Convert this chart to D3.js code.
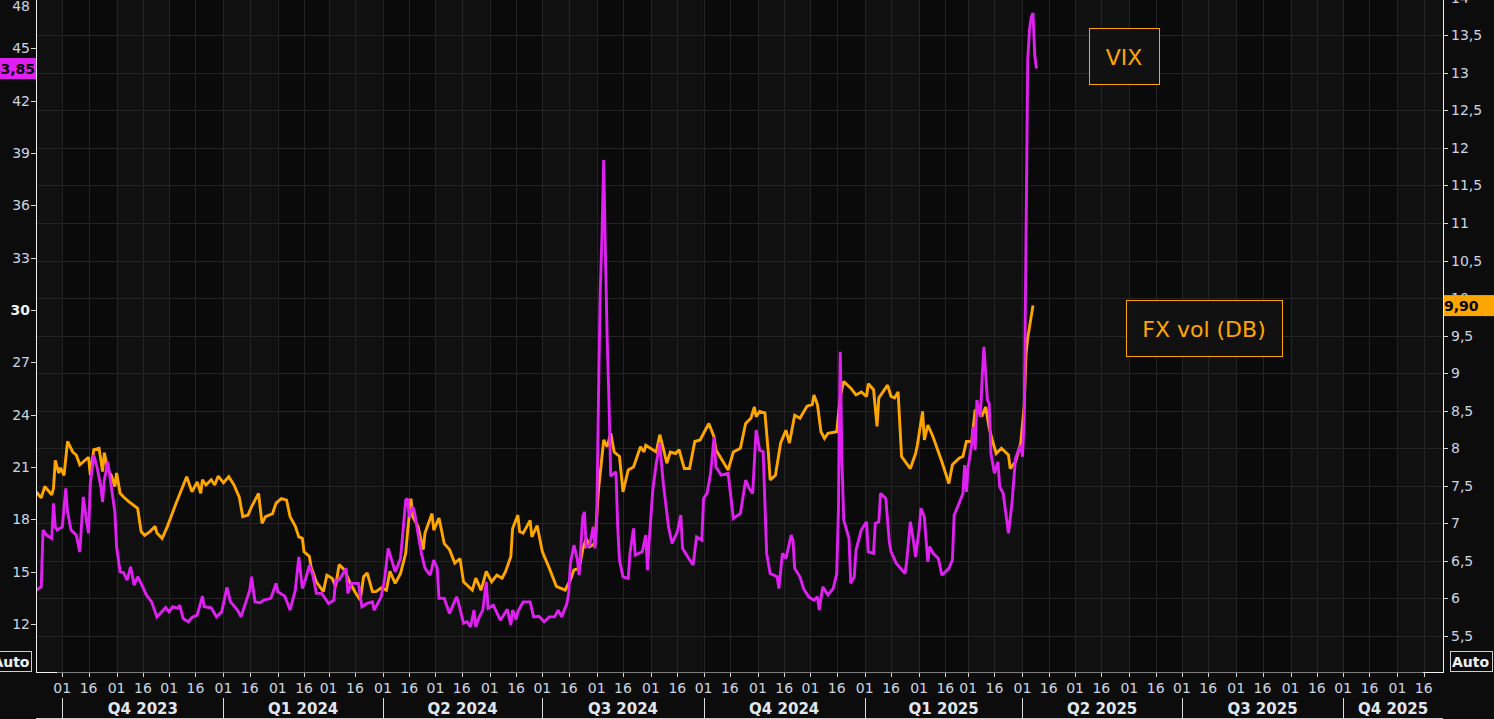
<!DOCTYPE html>
<html><head><meta charset="utf-8">
<script src="https://cdn.jsdelivr.net/npm/d3@7"></script>
<style>
html,body{margin:0;padding:0;background:#0c0c0c;overflow:hidden}
svg{display:block}
</style></head><body>
<svg id="c" width="1494" height="719"></svg>
<script>
// ---------------- DATA ----------------
const seriesNames = ["VIX", "FX vol (DB)"];
const lastLabels = ["43,85", "9,90"];
const leftTicks = [12, 15, 18, 21, 24, 27, 30, 33, 36, 39, 42, 45, 48];
const rightTicks = [5.5, 6, 6.5, 7, 7.5, 8, 8.5, 9, 9.5, 10, 10.5, 11, 11.5, 12, 12.5, 13, 13.5, 14];
const xStart = "2023-09-16";
const xEnd = "2025-11-27";

const fxDates = ["2023-09-16","2023-09-19","2023-09-21","2023-09-25","2023-09-26","2023-09-27","2023-09-29","2023-09-30","2023-10-02","2023-10-04","2023-10-07","2023-10-09","2023-10-11","2023-10-16","2023-10-17","2023-10-19","2023-10-22","2023-10-24","2023-10-25","2023-10-27","2023-10-29","2023-10-31","2023-11-01","2023-11-03","2023-11-05","2023-11-08","2023-11-13","2023-11-15","2023-11-17","2023-11-20","2023-11-23","2023-11-24","2023-11-27","2023-11-30","2023-12-05","2023-12-11","2023-12-14","2023-12-17","2023-12-19","2023-12-20","2023-12-22","2023-12-25","2023-12-27","2023-12-29","2024-01-01","2024-01-04","2024-01-07","2024-01-10","2024-01-12","2024-01-15","2024-01-17","2024-01-19","2024-01-21","2024-01-23","2024-01-25","2024-01-29","2024-01-31","2024-02-03","2024-02-06","2024-02-08","2024-02-11","2024-02-13","2024-02-15","2024-02-16","2024-02-19","2024-02-20","2024-02-23","2024-02-27","2024-02-29","2024-03-03","2024-03-05","2024-03-07","2024-03-10","2024-03-13","2024-03-16","2024-03-19","2024-03-21","2024-03-23","2024-03-26","2024-03-28","2024-03-31","2024-04-03","2024-04-05","2024-04-08","2024-04-11","2024-04-14","2024-04-15","2024-04-17","2024-04-18","2024-04-21","2024-04-24","2024-04-25","2024-04-29","2024-04-30","2024-05-03","2024-05-06","2024-05-09","2024-05-12","2024-05-15","2024-05-17","2024-05-22","2024-05-24","2024-05-27","2024-05-30","2024-06-02","2024-06-05","2024-06-08","2024-06-10","2024-06-13","2024-06-14","2024-06-17","2024-06-18","2024-06-20","2024-06-24","2024-06-25","2024-06-28","2024-07-01","2024-07-05","2024-07-09","2024-07-14","2024-07-17","2024-07-19","2024-07-22","2024-07-24","2024-07-26","2024-07-28","2024-07-31","2024-08-02","2024-08-05","2024-08-07","2024-08-09","2024-08-11","2024-08-14","2024-08-16","2024-08-19","2024-08-22","2024-08-26","2024-08-28","2024-08-29","2024-09-04","2024-09-06","2024-09-08","2024-09-10","2024-09-12","2024-09-15","2024-09-17","2024-09-20","2024-09-23","2024-09-26","2024-09-29","2024-10-04","2024-10-07","2024-10-08","2024-10-15","2024-10-18","2024-10-22","2024-10-25","2024-10-28","2024-10-30","2024-10-31","2024-11-02","2024-11-05","2024-11-07","2024-11-08","2024-11-11","2024-11-14","2024-11-17","2024-11-19","2024-11-22","2024-11-25","2024-11-29","2024-12-02","2024-12-03","2024-12-05","2024-12-07","2024-12-09","2024-12-11","2024-12-16","2024-12-18","2024-12-20","2024-12-24","2024-12-27","2024-12-30","2025-01-02","2025-01-03","2025-01-06","2025-01-08","2025-01-09","2025-01-14","2025-01-16","2025-01-18","2025-01-20","2025-01-22","2025-01-27","2025-01-30","2025-01-31","2025-02-03","2025-02-04","2025-02-06","2025-02-09","2025-02-14","2025-02-18","2025-02-20","2025-02-24","2025-02-26","2025-02-28","2025-03-03","2025-03-05","2025-03-09","2025-03-11","2025-03-13","2025-03-15","2025-03-17","2025-03-20","2025-03-24","2025-03-25","2025-03-28","2025-03-31","2025-04-02","2025-04-03","2025-04-04","2025-04-07"];
const fxValues = [7.42,7.34,7.49,7.38,7.47,7.84,7.67,7.74,7.64,8.09,7.95,7.91,7.78,7.88,7.64,7.98,8.00,7.69,7.94,7.71,7.64,7.49,7.67,7.40,7.35,7.29,7.20,6.89,6.84,6.89,6.96,6.87,6.80,6.96,7.27,7.62,7.42,7.55,7.40,7.58,7.51,7.58,7.51,7.63,7.54,7.62,7.51,7.35,7.09,7.11,7.22,7.31,7.40,7.00,7.09,7.13,7.27,7.33,7.31,7.09,6.96,6.82,6.80,6.62,6.56,6.42,6.22,6.09,6.31,6.27,6.16,6.45,6.38,6.22,6.09,5.98,6.29,6.34,6.09,6.09,6.14,6.11,6.36,6.20,6.33,6.60,6.87,7.33,7.09,6.96,6.65,6.87,7.13,6.91,7.07,6.73,6.65,6.47,6.53,6.22,6.11,6.27,6.11,6.36,6.22,6.31,6.27,6.36,6.56,6.93,7.11,6.89,6.87,7.04,6.82,6.97,6.62,6.40,6.16,6.11,6.25,6.38,6.40,6.65,6.80,6.69,6.73,7.44,8.11,8.02,8.20,7.95,7.89,7.42,7.71,7.75,8.02,7.95,8.04,7.95,8.18,8.00,7.80,7.95,7.93,7.98,7.73,7.73,8.09,8.11,8.33,8.15,7.98,7.71,7.95,8.00,8.33,8.40,8.55,8.42,8.49,8.47,7.93,7.58,7.64,8.07,8.24,8.07,8.44,8.40,8.56,8.58,8.71,8.58,8.22,8.13,8.20,8.22,8.69,8.89,8.80,8.71,8.75,8.69,8.86,8.78,8.29,8.67,8.84,8.69,8.67,8.75,7.89,7.73,7.93,8.04,8.49,8.11,8.31,8.15,7.82,7.53,7.78,7.87,7.89,8.09,8.09,8.51,8.44,8.55,8.27,8.09,7.93,8.00,7.91,7.73,7.82,8.07,8.56,9.24,9.47,9.90];

const vixDates = ["2023-09-16","2023-09-19","2023-09-20","2023-09-22","2023-09-25","2023-09-26","2023-09-27","2023-09-28","2023-10-01","2023-10-03","2023-10-04","2023-10-06","2023-10-09","2023-10-11","2023-10-13","2023-10-15","2023-10-16","2023-10-17","2023-10-19","2023-10-21","2023-10-23","2023-10-24","2023-10-25","2023-10-27","2023-10-29","2023-10-31","2023-11-01","2023-11-03","2023-11-05","2023-11-07","2023-11-09","2023-11-11","2023-11-13","2023-11-15","2023-11-18","2023-11-21","2023-11-24","2023-11-29","2023-12-01","2023-12-03","2023-12-06","2023-12-07","2023-12-09","2023-12-12","2023-12-14","2023-12-17","2023-12-20","2023-12-21","2023-12-25","2023-12-28","2023-12-31","2024-01-03","2024-01-05","2024-01-09","2024-01-11","2024-01-16","2024-01-17","2024-01-19","2024-01-22","2024-01-24","2024-01-28","2024-01-31","2024-02-01","2024-02-05","2024-02-08","2024-02-11","2024-02-13","2024-02-15","2024-02-17","2024-02-19","2024-02-21","2024-02-23","2024-02-26","2024-02-28","2024-03-01","2024-03-04","2024-03-05","2024-03-07","2024-03-11","2024-03-12","2024-03-14","2024-03-18","2024-03-20","2024-03-23","2024-03-26","2024-03-27","2024-03-31","2024-04-02","2024-04-04","2024-04-06","2024-04-08","2024-04-11","2024-04-12","2024-04-14","2024-04-15","2024-04-16","2024-04-18","2024-04-19","2024-04-21","2024-04-23","2024-04-25","2024-04-28","2024-04-30","2024-05-02","2024-05-03","2024-05-06","2024-05-09","2024-05-13","2024-05-14","2024-05-17","2024-05-19","2024-05-21","2024-05-23","2024-05-24","2024-05-26","2024-05-28","2024-05-30","2024-05-31","2024-06-03","2024-06-07","2024-06-11","2024-06-13","2024-06-14","2024-06-16","2024-06-17","2024-06-20","2024-06-24","2024-06-26","2024-06-29","2024-07-02","2024-07-05","2024-07-08","2024-07-10","2024-07-12","2024-07-15","2024-07-16","2024-07-17","2024-07-19","2024-07-21","2024-07-22","2024-07-24","2024-07-25","2024-07-26","2024-07-28","2024-07-30","2024-07-31","2024-08-01","2024-08-02","2024-08-03","2024-08-04","2024-08-05","2024-08-06","2024-08-07","2024-08-08","2024-08-09","2024-08-12","2024-08-13","2024-08-14","2024-08-16","2024-08-19","2024-08-20","2024-08-22","2024-08-23","2024-08-27","2024-08-29","2024-08-30","2024-08-31","2024-09-02","2024-09-04","2024-09-06","2024-09-08","2024-09-11","2024-09-13","2024-09-16","2024-09-18","2024-09-19","2024-09-22","2024-09-25","2024-09-27","2024-09-30","2024-10-01","2024-10-03","2024-10-05","2024-10-07","2024-10-08","2024-10-11","2024-10-15","2024-10-18","2024-10-22","2024-10-25","2024-10-27","2024-10-29","2024-10-31","2024-11-02","2024-11-04","2024-11-06","2024-11-08","2024-11-12","2024-11-13","2024-11-15","2024-11-17","2024-11-20","2024-11-21","2024-11-22","2024-11-25","2024-11-27","2024-11-30","2024-12-03","2024-12-05","2024-12-06","2024-12-08","2024-12-11","2024-12-14","2024-12-16","2024-12-17","2024-12-18","2024-12-19","2024-12-20","2024-12-23","2024-12-24","2024-12-26","2024-12-27","2024-12-30","2025-01-02","2025-01-03","2025-01-06","2025-01-07","2025-01-09","2025-01-10","2025-01-13","2025-01-15","2025-01-16","2025-01-19","2025-01-24","2025-01-25","2025-01-27","2025-01-29","2025-01-30","2025-02-01","2025-02-02","2025-02-04","2025-02-05","2025-02-06","2025-02-07","2025-02-09","2025-02-12","2025-02-14","2025-02-18","2025-02-20","2025-02-21","2025-02-23","2025-02-26","2025-02-27","2025-02-28","2025-03-01","2025-03-03","2025-03-04","2025-03-05","2025-03-06","2025-03-08","2025-03-09","2025-03-10","2025-03-12","2025-03-13","2025-03-14","2025-03-16","2025-03-18","2025-03-19","2025-03-21","2025-03-24","2025-03-26","2025-03-28","2025-03-31","2025-04-01","2025-04-02","2025-04-03","2025-04-04","2025-04-05","2025-04-06","2025-04-07","2025-04-08","2025-04-09"];
const vixValues = [13.94,14.13,17.39,17.10,16.91,18.92,17.57,17.39,17.57,19.78,18.43,17.39,17.10,16.14,19.29,17.77,17.20,20.06,21.69,20.92,19.87,19.01,20.25,21.30,19.87,18.43,16.43,14.99,14.94,14.52,15.28,14.23,14.71,14.33,13.66,13.27,12.41,12.95,12.70,12.99,12.90,13.08,12.32,12.13,12.38,12.51,13.60,12.99,12.93,12.41,12.70,14.10,13.27,12.80,12.41,13.94,14.71,13.27,13.22,13.37,13.47,14.33,13.85,13.60,12.80,13.94,15.85,14.04,14.62,15.38,14.80,13.76,13.76,13.47,13.18,13.37,14.52,14.52,15.19,13.76,14.33,14.33,12.99,13.18,13.27,12.80,13.56,14.62,16.34,15.67,14.99,15.76,16.81,19.11,19.20,18.15,18.72,18.43,17.20,16.05,15.19,14.80,15.67,15.19,13.47,13.47,12.61,13.56,13.27,12.04,12.13,11.84,12.80,11.84,12.41,12.80,14.42,12.90,13.08,12.22,12.84,11.94,12.80,12.26,12.70,13.27,13.27,12.41,12.45,12.13,12.41,12.41,12.80,12.41,13.18,13.76,15.48,16.52,15.67,14.80,18.15,18.43,16.43,16.52,17.57,16.34,17.77,24.84,30.97,34.24,38.60,33.15,28.28,24.84,20.48,20.73,17.57,15.67,14.71,14.62,16.05,17.48,15.95,16.14,17.10,15.09,16.81,19.68,21.21,22.36,20.06,17.57,16.62,17.29,18.25,16.34,15.85,15.38,17.00,16.81,19.20,19.49,20.64,22.73,21.01,20.54,20.64,18.06,18.34,20.25,19.78,19.49,23.12,21.97,21.88,16.05,14.90,14.71,14.04,16.05,15.76,17.10,16.81,15.19,14.71,14.04,13.56,13.37,13.56,12.80,14.13,13.66,14.04,14.90,18.72,27.61,21.21,17.96,16.91,14.33,14.71,16.24,17.39,17.86,16.14,16.05,17.77,17.86,19.49,19.20,16.71,16.14,15.48,14.90,15.67,17.86,16.62,15.85,17.39,18.63,18.15,16.81,15.57,16.43,16.05,15.76,14.80,15.19,15.67,18.25,18.72,19.49,21.11,19.58,21.01,22.26,23.31,21.97,24.84,23.88,26.18,27.90,24.84,24.65,21.78,20.64,21.30,19.87,19.49,17.20,18.92,21.50,22.26,21.59,23.69,33.84,44.34,46.06,46.80,47.03,44.62,43.85];

// ---------------- CHART ----------------
const W = 1494, H = 719;
const M = {left: 36, right: 1443, top: 0, bottom: 672};
const parse = d3.utcParse("%Y-%m-%d");
const C = {orange: "#ffa500", magenta: "#e020f2", grid: "#242424", label: "#cdd5e0"};
const FONT = "'DejaVu Sans', Verdana, sans-serif";

const svg = d3.select("#c");
svg.append("rect").attr("width", W).attr("height", H).attr("fill", "#0c0c0c");

const x = d3.scaleUtc().domain([parse(xStart), parse(xEnd)]).range([M.left, M.right]);
const yL = d3.scaleLinear().domain([9.25, 47.78]).range([M.bottom, M.top]);
const yR = d3.scaleLinear().domain([5.02, 13.97]).range([M.bottom, M.top]);

const plot = svg.append("g");
plot.append("defs").append("clipPath").attr("id", "clip")
  .append("rect").attr("x", M.left).attr("y", M.top).attr("width", M.right - M.left).attr("height", M.bottom - M.top);

// month bands
const months = d3.utcMonth.range(d3.utcMonth.floor(x.domain()[0]), x.domain()[1]);
plot.append("g").attr("clip-path", "url(#clip)").selectAll("rect").data(months).join("rect")
  .attr("x", d => x(d)).attr("y", M.top)
  .attr("width", d => x(d3.utcMonth.offset(d, 1)) - x(d))
  .attr("height", M.bottom - M.top)
  .attr("fill", (d, i) => i % 2 ? "#0a0a0a" : "#101010");

// x ticks: 1st and 16th of each month
const xTicks = [];
months.forEach(m => {
  [m, d3.utcDay.offset(m, 15)].forEach(t => { if (t > x.domain()[0] && t <= x.domain()[1]) xTicks.push(t); });
});

// gridlines
plot.append("g").selectAll("line").data(xTicks).join("line")
  .attr("x1", d => Math.round(x(d)) + 0.5).attr("x2", d => Math.round(x(d)) + 0.5)
  .attr("y1", M.top).attr("y2", M.bottom).attr("stroke", C.grid).attr("stroke-width", 1);
plot.append("g").selectAll("line").data(rightTicks).join("line")
  .attr("x1", M.left).attr("x2", M.right)
  .attr("y1", d => Math.round(yR(d)) + 0.5).attr("y2", d => Math.round(yR(d)) + 0.5)
  .attr("stroke", C.grid).attr("stroke-width", 1);

// lines
const fxData = fxDates.map((d, i) => ({date: parse(d), value: fxValues[i]}));
const vixData = vixDates.map((d, i) => ({date: parse(d), value: vixValues[i]}));
const lineG = plot.append("g").attr("clip-path", "url(#clip)");
lineG.append("path").datum(fxData)
  .attr("d", d3.line().x(d => x(d.date)).y(d => yR(d.value)))
  .attr("fill", "none").attr("stroke", C.orange).attr("stroke-width", 2.9).attr("stroke-linejoin", "miter").attr("stroke-miterlimit", 2);
lineG.append("path").datum(vixData)
  .attr("d", d3.line().x(d => x(d.date)).y(d => yL(d.value)))
  .attr("fill", "none").attr("stroke", C.magenta).attr("stroke-width", 2.9).attr("stroke-linejoin", "miter").attr("stroke-miterlimit", 2);

// legend boxes
const legends = [
  {text: seriesNames[0], x: 1089, y: 28, w: 70, h: 56},
  {text: seriesNames[1], x: 1126, y: 300, w: 156, h: 56}
];
const lg = svg.append("g").selectAll("g").data(legends).join("g");
lg.append("rect").attr("x", d => d.x + 0.5).attr("y", d => d.y + 0.5).attr("width", d => d.w).attr("height", d => d.h)
  .attr("fill", "#111111").attr("stroke", C.orange).attr("stroke-width", 1);
lg.append("text").attr("x", d => d.x + d.w / 2).attr("y", d => d.y + d.h / 2 + 1)
  .attr("text-anchor", "middle").attr("dominant-baseline", "central")
  .attr("fill", C.orange).attr("font-family", FONT).attr("font-size", 22).text(d => d.text);

// axes frame
const ax = svg.append("g");
ax.append("line").attr("x1", M.left).attr("x2", M.right).attr("y1", M.bottom + 0.5).attr("y2", M.bottom + 0.5).attr("stroke", "#7a7a7a");
ax.append("line").attr("x1", M.left + 0.5).attr("x2", M.left + 0.5).attr("y1", 0).attr("y2", M.bottom + 1).attr("stroke", "#f0f0f0");
ax.append("line").attr("x1", M.left).attr("x2", 57).attr("y1", M.bottom + 0.5).attr("y2", M.bottom + 0.5).attr("stroke", "#f0f0f0");
ax.append("line").attr("x1", M.right + 0.5).attr("x2", M.right + 0.5).attr("y1", 0).attr("y2", M.bottom + 1).attr("stroke", "#f0f0f0");
ax.append("line").attr("x1", 1423).attr("x2", M.right + 1).attr("y1", M.bottom + 0.5).attr("y2", M.bottom + 0.5).attr("stroke", "#f0f0f0");
ax.append("line").attr("x1", M.left).attr("x2", M.right).attr("y1", 718.5).attr("y2", 718.5).attr("stroke", "#cfcfcf");

// x tick marks and labels
const fmtDay = d3.utcFormat("%d");
ax.append("g").selectAll("line").data(xTicks).join("line")
  .attr("x1", d => Math.round(x(d)) + 0.5).attr("x2", d => Math.round(x(d)) + 0.5)
  .attr("y1", M.bottom + 1).attr("y2", M.bottom + 5).attr("stroke", "#d8d8d8");
ax.append("g").selectAll("text").data(xTicks).join("text")
  .attr("x", d => x(d)).attr("y", 693)
  .attr("text-anchor", "middle").attr("fill", C.label).attr("font-family", FONT).attr("font-size", 14)
  .text(d => fmtDay(d));

// quarters
const quarters = d3.utcMonth.every(3).range(d3.utcYear.floor(x.domain()[0]), x.domain()[1]).filter(q => q >= x.domain()[0]);
ax.append("g").selectAll("line").data(quarters).join("line")
  .attr("x1", d => Math.round(x(d)) + 0.5).attr("x2", d => Math.round(x(d)) + 0.5)
  .attr("y1", 698).attr("y2", 719).attr("stroke", "#dcdcdc");
ax.append("g").selectAll("text").data(quarters).join("text")
  .attr("x", d => (x(d) + Math.min(x(d3.utcMonth.offset(d, 3)), M.right)) / 2).attr("y", 714)
  .attr("text-anchor", "middle").attr("fill", "#e2e8f0").attr("font-family", FONT).attr("font-size", 15).attr("font-weight", "bold")
  .text(d => "Q" + (Math.floor(d.getUTCMonth() / 3) + 1) + " " + d.getUTCFullYear());

// left axis
const fmtNum = v => String(v).replace(".", ",");
ax.append("g").selectAll("line").data(leftTicks).join("line")
  .attr("x1", 31).attr("x2", M.left).attr("y1", d => Math.round(yL(d)) + 0.5).attr("y2", d => Math.round(yL(d)) + 0.5)
  .attr("stroke", "#d8d8d8");
ax.append("g").selectAll("text").data(leftTicks).join("text")
  .attr("x", 30).attr("y", d => Math.max(yL(d), 6))
  .attr("text-anchor", "end").attr("dominant-baseline", "central")
  .attr("fill", d => d === 30 ? "#eef2f8" : C.label).attr("font-weight", d => d === 30 ? "bold" : "normal")
  .attr("font-family", FONT).attr("font-size", 14).text(d => fmtNum(d));

// right axis
ax.append("g").selectAll("line").data(rightTicks).join("line")
  .attr("x1", M.right).attr("x2", M.right + 5).attr("y1", d => Math.round(yR(d)) + 0.5).attr("y2", d => Math.round(yR(d)) + 0.5)
  .attr("stroke", "#d8d8d8");
ax.append("g").selectAll("text").data(rightTicks).join("text")
  .attr("x", 1451).attr("y", d => yR(d))
  .attr("text-anchor", "start").attr("dominant-baseline", "central")
  .attr("fill", C.label).attr("font-family", FONT).attr("font-size", 14).text(d => fmtNum(d));

// last value tags
const lastVix = vixValues[vixValues.length - 1], lastFx = fxValues[fxValues.length - 1];
ax.append("rect").attr("x", 0).attr("y", yL(lastVix) - 10.5).attr("width", M.left).attr("height", 21).attr("fill", C.magenta);
ax.append("text").attr("x", 35).attr("y", yL(lastVix) + 0.5).attr("text-anchor", "end").attr("dominant-baseline", "central")
  .attr("fill", "#000").attr("font-family", FONT).attr("font-size", 14).attr("font-weight", "bold").text(lastLabels[0]);
ax.append("rect").attr("x", M.right + 1).attr("y", yR(lastFx) - 10.5).attr("width", W - M.right).attr("height", 21).attr("fill", C.orange);
ax.append("text").attr("x", 1444).attr("y", yR(lastFx) + 0.5).attr("text-anchor", "start").attr("dominant-baseline", "central")
  .attr("fill", "#000").attr("font-family", FONT).attr("font-size", 14).attr("font-weight", "bold").text(lastLabels[1]);

// Auto boxes
const autos = [{x: -3, w: 34.5, anchor: "end", tx: 29.5}, {x: 1450.5, w: 42, anchor: "start", tx: 1452}];
const ag = ax.append("g").selectAll("g").data(autos).join("g");
ag.append("rect").attr("x", d => d.x).attr("y", 651.5).attr("width", d => d.w).attr("height", 20)
  .attr("fill", "#0c0c0c").attr("stroke", "#cfcfcf").attr("stroke-width", 1);
ag.append("text").attr("x", d => d.tx).attr("y", 662).attr("text-anchor", d => d.anchor).attr("dominant-baseline", "central")
  .attr("fill", "#eef2f8").attr("font-family", FONT).attr("font-size", 14).attr("font-weight", "bold").text("Auto");
</script>
</body></html>
